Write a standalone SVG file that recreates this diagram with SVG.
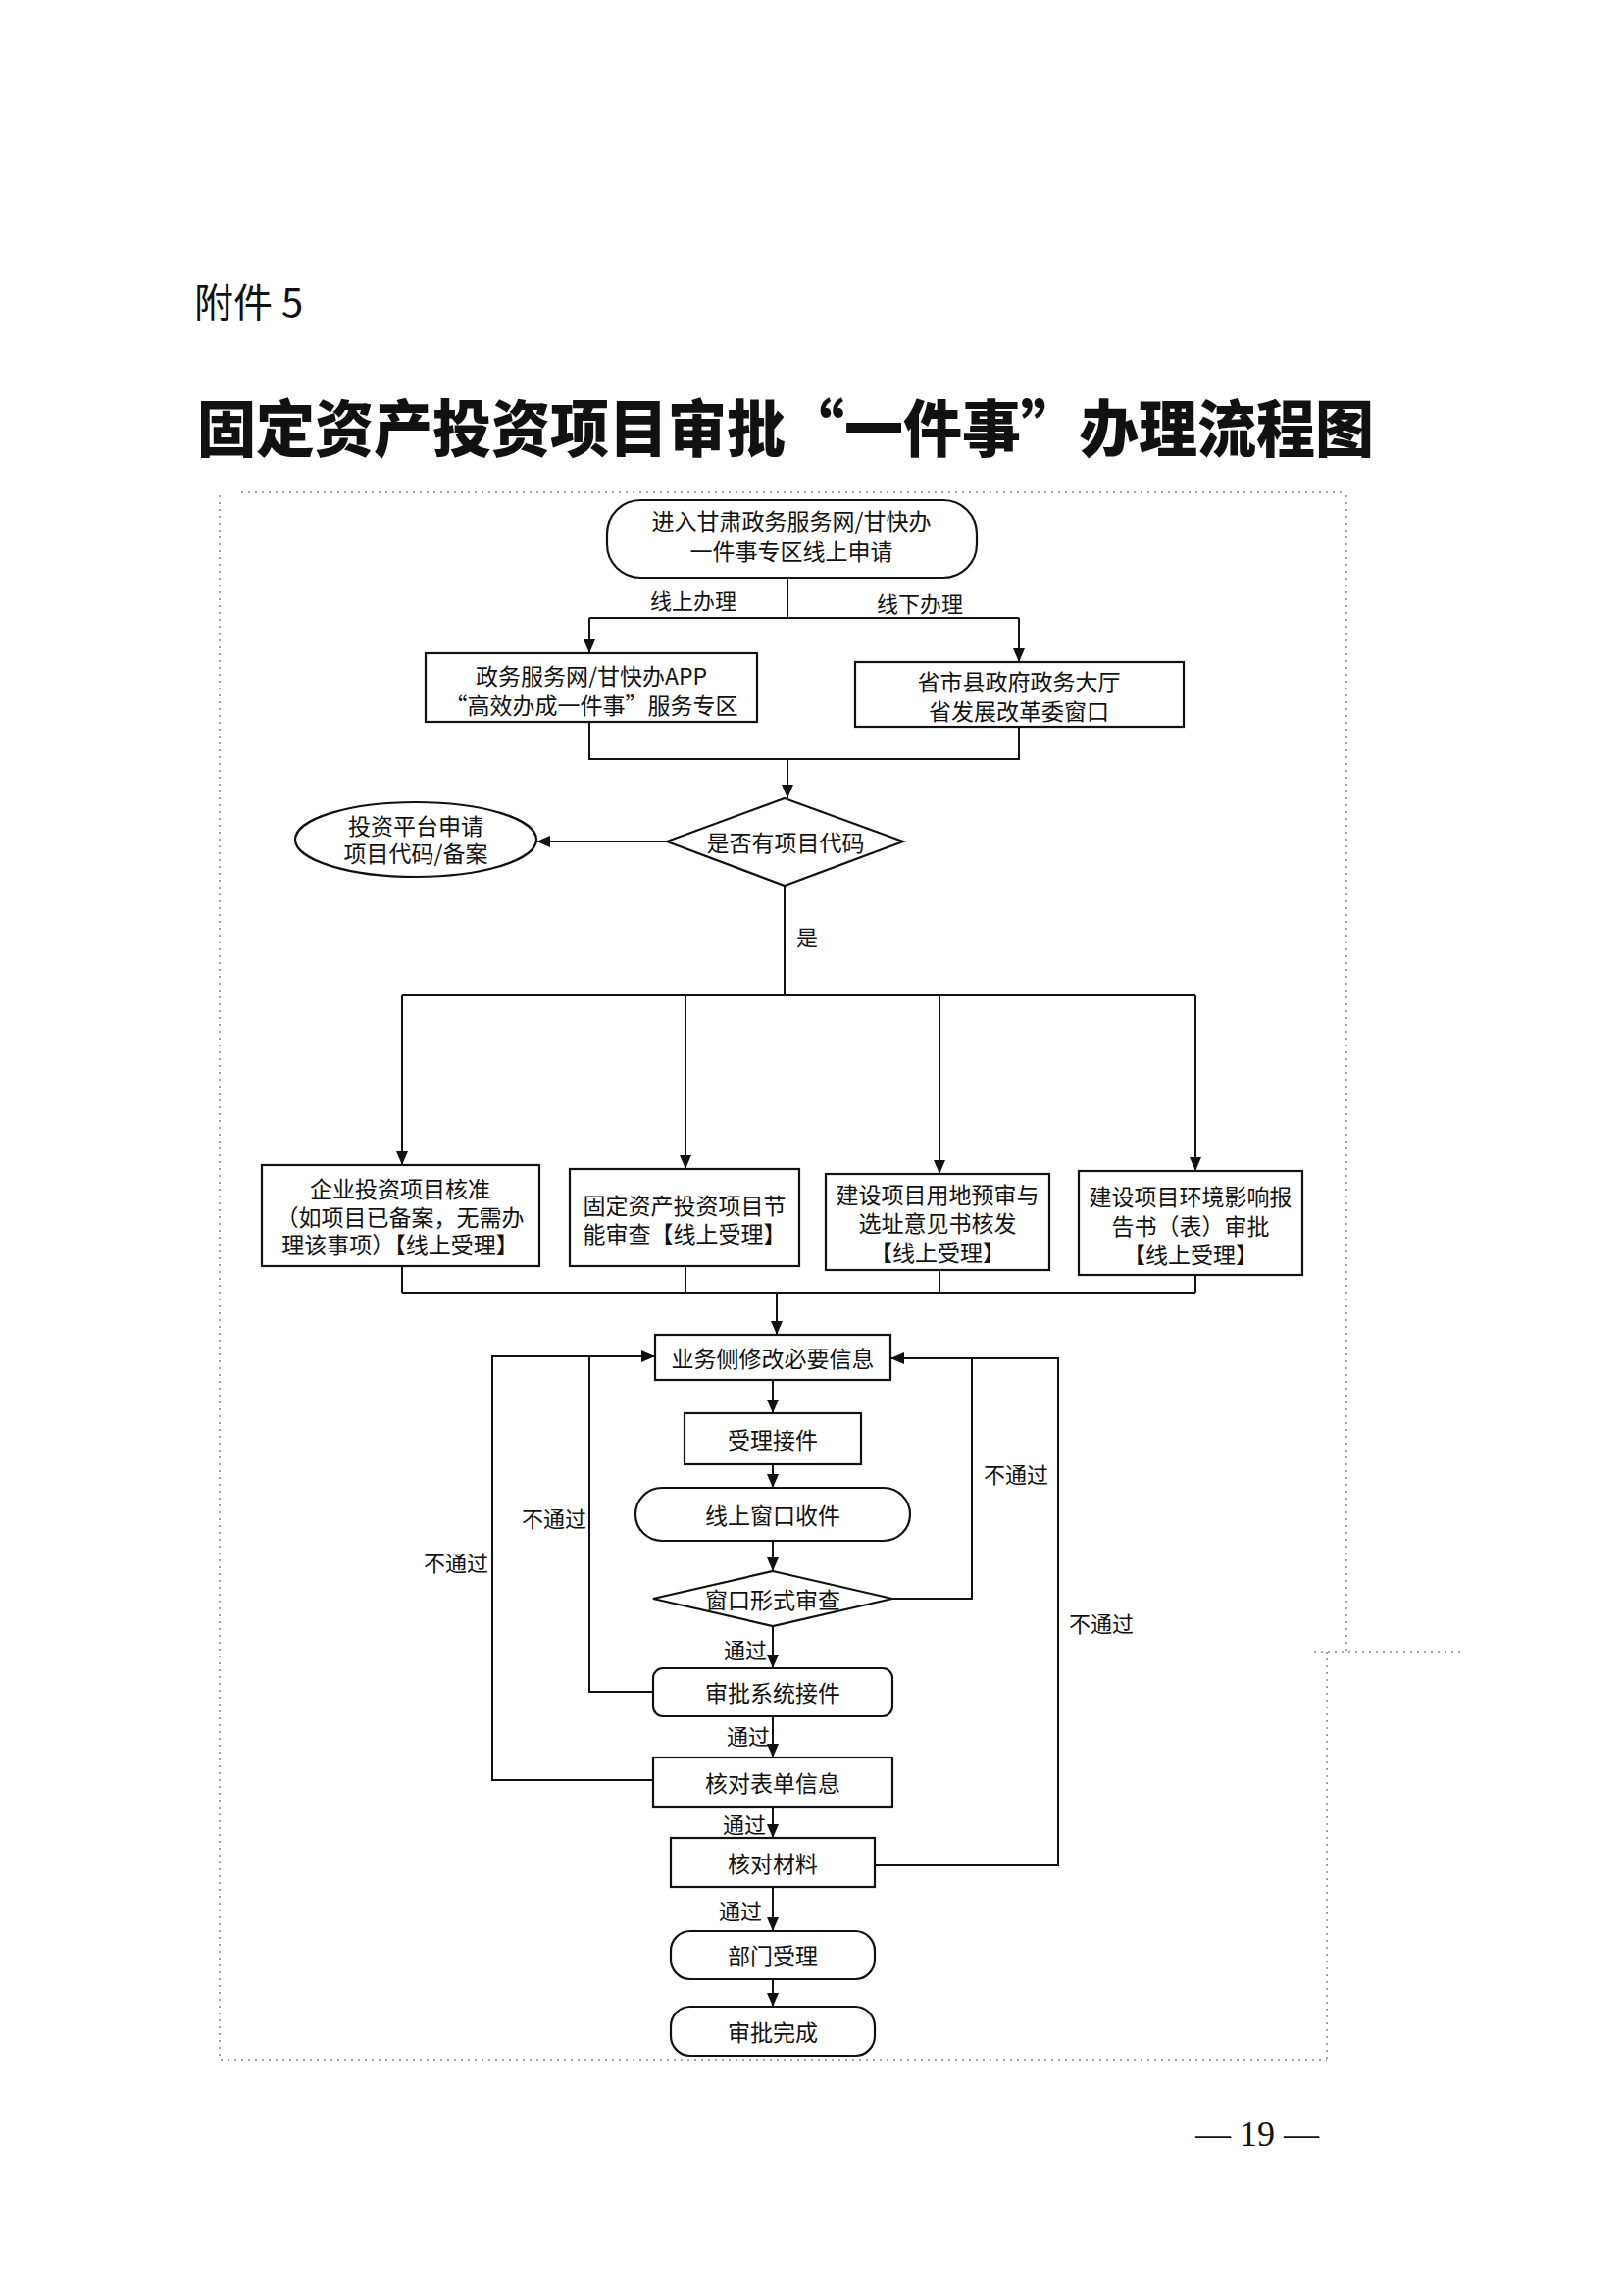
<svg xmlns="http://www.w3.org/2000/svg" width="1656" height="2338" viewBox="0 0 1656 2338">
<defs>
<marker id="ah" markerUnits="userSpaceOnUse" markerWidth="14" markerHeight="12" refX="14" refY="6" orient="auto">
<path d="M0,0 L14,6 L0,12 z" fill="#111"/>
</marker>
<style>
.t{font-family:"Noto Sans CJK SC","Noto Sans CJK JP",sans-serif;font-size:23px;fill:#111;text-anchor:middle;dominant-baseline:central}
.l{font-family:"Noto Sans CJK SC","Noto Sans CJK JP",sans-serif;font-size:22px;fill:#111;dominant-baseline:central}
.b{fill:#fff;stroke:#111;stroke-width:2.2}
.c{fill:none;stroke:#111;stroke-width:2}
.a{fill:none;stroke:#111;stroke-width:2;marker-end:url(#ah)}
.f{fill:none;stroke:#888;stroke-width:1.5;stroke-dasharray:2 5}
</style>
</defs>
<rect width="1656" height="2338" fill="#fff"/>
<text x="198" y="306" style="font-family:'Noto Sans CJK SC',sans-serif;font-size:40px;fill:#111;dominant-baseline:central">附件 5</text>
<text x="201" y="432" textLength="1200" lengthAdjust="spacingAndGlyphs" style="font-family:'Noto Sans CJK SC',sans-serif;font-size:63px;font-weight:900;fill:#111;dominant-baseline:central">固定资产投资项目审批“一件事”办理流程图</text>
<path class="f" d="M246,502 H1373 M224,505 V2100 H1353 M1373,505 V1684 M1353,1684 V2100 M1340,1684 H1490"/>

<g id="connectors">
<path class="c" d="M803,589 V630 M601,630 H1039"/>
<path class="a" d="M601,630 V666"/>
<path class="a" d="M1039,630 V675"/>
<path class="c" d="M601,736 V774 H1039 V741"/>
<path class="a" d="M803,774 V814"/>
<path class="a" d="M680,858 H547"/>
<path class="c" d="M800,903 V1015 M410,1015 H1219"/>
<path class="a" d="M410,1015 V1188"/>
<path class="a" d="M699,1015 V1192"/>
<path class="a" d="M958,1015 V1197"/>
<path class="a" d="M1219,1015 V1194"/>
<path class="c" d="M410,1291 V1318 M699,1291 V1318 M958,1295 V1318 M1219,1300 V1318 M410,1318 H1219"/>
<path class="a" d="M792,1318 V1361"/>
<path class="a" d="M788,1407 V1441"/>
<path class="a" d="M788,1493 V1517"/>
<path class="a" d="M788,1571 V1602"/>
<path class="a" d="M788,1658 V1701"/>
<path class="a" d="M788,1750 V1792"/>
<path class="a" d="M788,1842 V1874"/>
<path class="a" d="M788,1924 V1969"/>
<path class="a" d="M788,2018 V2046"/>
<path class="a" d="M910,1630 H991 V1385 H908"/>
<path class="c" d="M892,1902 H1079 V1385 H991"/>
<path class="a" d="M666,1725 H601 V1383 H668"/>
<path class="c" d="M666,1815 H502 V1383 H601"/>
<text class="l" x="663" y="611">线上办理</text>
<text class="l" x="894" y="614">线下办理</text>
<text class="l" x="812" y="954">是</text>
<text class="l" x="1003" y="1502">不通过</text>
<text class="l" x="1090" y="1654">不通过</text>
<text class="l" x="598" y="1547" text-anchor="end">不通过</text>
<text class="l" x="498" y="1592" text-anchor="end">不通过</text>
<text class="l" x="782" y="1681" text-anchor="end">通过</text>
<text class="l" x="785" y="1769" text-anchor="end">通过</text>
<text class="l" x="781" y="1859" text-anchor="end">通过</text>
<text class="l" x="777" y="1947" text-anchor="end">通过</text>
</g>

<g id="start">
<rect class="b" x="619" y="510" width="377" height="79" rx="34"/>
<text class="t" x="807" y="530">进入甘肃政务服务网/甘快办<tspan x="807" dy="31">一件事专区线上申请</tspan></text>
</g>
<g id="online">
<rect class="b" x="434" y="666" width="338" height="70"/>
<text class="t" x="603" y="688">政务服务网/甘快办APP<tspan x="603" dy="30">“高效办成一件事”服务专区</tspan></text>
</g>
<g id="offline">
<rect class="b" x="872" y="675" width="335" height="66"/>
<text class="t" x="1039" y="694">省市县政府政务大厅<tspan x="1039" dy="30">省发展改革委窗口</tspan></text>
</g>
<g id="hascode">
<polygon class="b" points="800,814 921,858 800,903 680,858"/>
<text class="t" x="801" y="858">是否有项目代码</text>
</g>
<g id="platform">
<ellipse class="b" cx="424" cy="856" rx="123" ry="38"/>
<text class="t" x="424" y="841">投资平台申请<tspan x="424" dy="28">项目代码/备案</tspan></text>
</g>
<g id="b1">
<rect class="b" x="267" y="1188" width="283" height="103"/>
<text class="t" x="408" y="1211">企业投资项目核准<tspan x="408" dy="29">（如项目已备案，无需办</tspan><tspan x="408" dy="28">理该事项）【线上受理】</tspan></text>
</g>
<g id="b2">
<rect class="b" x="581" y="1192" width="234" height="99"/>
<text class="t" x="698" y="1228">固定资产投资项目节<tspan x="698" dy="29">能审查【线上受理】</tspan></text>
</g>
<g id="b3">
<rect class="b" x="842" y="1197" width="228" height="98"/>
<text class="t" x="956" y="1217">建设项目用地预审与<tspan x="956" dy="29">选址意见书核发</tspan><tspan x="956" dy="30">【线上受理】</tspan></text>
</g>
<g id="b4">
<rect class="b" x="1100" y="1194" width="228" height="106"/>
<text class="t" x="1214" y="1219">建设项目环境影响报<tspan x="1214" dy="30">告书（表）审批</tspan><tspan x="1214" dy="29">【线上受理】</tspan></text>
</g>
<g id="modify">
<rect class="b" x="668" y="1361" width="240" height="46"/>
<text class="t" x="788" y="1384">业务侧修改必要信息</text>
</g>
<g id="accept">
<rect class="b" x="698" y="1441" width="180" height="52"/>
<text class="t" x="788" y="1467">受理接件</text>
</g>
<g id="window">
<rect class="b" x="648" y="1517" width="280" height="54" rx="27"/>
<text class="t" x="788" y="1544">线上窗口收件</text>
</g>
<g id="formcheck">
<polygon class="b" points="788,1602 910,1630 788,1658 666,1630"/>
<text class="t" x="788" y="1630">窗口形式审查</text>
</g>
<g id="sysaccept">
<rect class="b" x="666" y="1701" width="244" height="49" rx="10"/>
<text class="t" x="788" y="1725">审批系统接件</text>
</g>
<g id="formverify">
<rect class="b" x="666" y="1792" width="244" height="50"/>
<text class="t" x="788" y="1817">核对表单信息</text>
</g>
<g id="material">
<rect class="b" x="684" y="1874" width="208" height="50"/>
<text class="t" x="788" y="1899">核对材料</text>
</g>
<g id="dept">
<rect class="b" x="684" y="1969" width="208" height="49" rx="20"/>
<text class="t" x="788" y="1993">部门受理</text>
</g>
<g id="done">
<rect class="b" x="684" y="2046" width="208" height="50" rx="20"/>
<text class="t" x="788" y="2071">审批完成</text>
</g>
<text x="1282" y="2176" style="font-family:'Liberation Serif',serif;font-size:36px;fill:#111;text-anchor:middle;dominant-baseline:central">— 19 —</text>
</svg>
